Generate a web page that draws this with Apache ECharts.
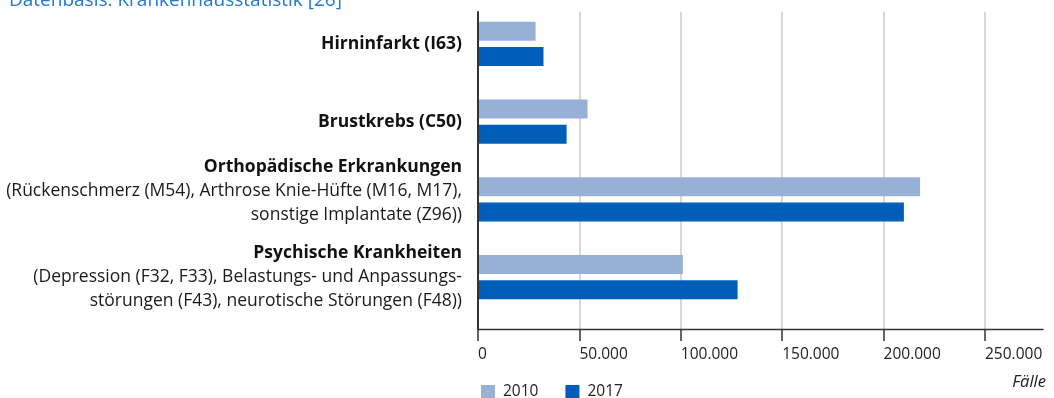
<!DOCTYPE html>
<html>
<head>
<meta charset="utf-8">
<script src="https://cdn.jsdelivr.net/npm/echarts@6/dist/echarts.min.js"></script>
<style>
  html, body { margin: 0; padding: 0; background: #fff; }
  #chart { width: 1054px; height: 398px; }
</style>
</head>
<body>
<div id="chart"></div>
<script>
// Diagnosis groups (bold heading) and their ICD detail lines
const categories = [
  'Hirninfarkt (I63)',
  'Brustkrebs (C50)',
  'Orthopädische Erkrankungen',
  'Psychische Krankheiten'
];
const categoryDetails = [
  [],
  [],
  ['(Rückenschmerz (M54), Arthrose Knie-Hüfte (M16, M17),', 'sonstige Implantate (Z96))'],
  ['(Depression (F32, F33), Belastungs- und Anpassungs-', 'störungen (F43), neurotische Störungen (F48))']
];
// Extra space under a label block lifts it above the bar pair
const labelLift = [0, 0, 17, 0];

const seriesNames = ['2010', '2017'];
const cases2010 = [28400, 54000, 218000, 101000];
const cases2017 = [32300, 43700, 210000, 128000];

const xTicks = [0, 50000, 100000, 150000, 200000, 250000];

const FONT = 'Open Sans';
const fmt = v => String(v).replace(/\B(?=(\d{3})+(?!\d))/g, '.');

const chart = echarts.init(document.getElementById('chart'), null, { renderer: 'canvas' });

const rich = {
  b: { fontFamily: FONT, fontSize: 17.5, fontWeight: 'bold', color: '#111', lineHeight: 24, align: 'right' },
  r: { fontFamily: FONT, fontSize: 17.5, color: '#1a1a1a', lineHeight: 24, align: 'right' }
};
labelLift.forEach((h, i) => { if (h) rich['sp' + i] = { fontSize: 1, lineHeight: h }; });

chart.setOption({
  animation: false,
  textStyle: { fontFamily: FONT },
  title: [
    {
      text: 'Datenbasis: Krankenhausstatistik [26]',
      left: 9, top: -9, padding: 0,
      textStyle: { fontFamily: FONT, fontSize: 19, fontWeight: 'normal', color: '#2279cf' }
    },
    {
      text: 'Fälle',
      right: 8, top: 374, padding: 0,
      textStyle: { fontFamily: FONT, fontSize: 16.5, fontWeight: 'normal', fontStyle: 'italic', color: '#222' }
    }
  ],
  legend: {
    left: 481, top: 384, padding: 0,
    itemWidth: 14, itemHeight: 14, itemGap: 27,
    icon: 'rect',
    data: seriesNames,
    textStyle: { fontFamily: FONT, fontSize: 15.5, color: '#222', padding: [0, 0, 0, 3] }
  },
  grid: [
    // bars and category labels
    { left: 478, width: 507, top: 5, height: 311 },
    // gridlines, value ticks and labels, vertical axis line
    { left: 478, width: 507, top: 12, bottom: 69 },
    // horizontal baseline running past the last tick
    { left: 478, right: 11, top: 12, bottom: 69 }
  ],
  xAxis: [
    { gridIndex: 0, type: 'value', min: 0, max: 250000, show: false },
    {
      gridIndex: 1, type: 'value', min: 0, max: 250000, interval: 50000,
      axisLine: { show: false },
      axisTick: { show: true, length: 12, inside: false, lineStyle: { color: '#333', width: 1.5 } },
      splitLine: { show: true, lineStyle: { color: '#cacaca', width: 1.5 } },
      axisLabel: {
        margin: 18, align: 'left', fontFamily: FONT, fontSize: 15.5, color: '#222',
        formatter: v => xTicks.includes(v) ? fmt(v) : ''
      }
    },
    {
      gridIndex: 2, type: 'value', min: 0, max: 1,
      axisLine: { show: true, lineStyle: { color: '#333', width: 1.3 } },
      axisTick: { show: false }, axisLabel: { show: false }, splitLine: { show: false }
    }
  ],
  yAxis: [
    {
      gridIndex: 0, type: 'category', inverse: true, data: categories,
      axisLine: { show: false }, axisTick: { show: false }, splitLine: { show: false },
      axisLabel: {
        interval: 0, hideOverlap: false,
        margin: 16, align: 'right',
        formatter: (name, idx) => {
          let s = '{b|' + name + '}';
          categoryDetails[idx].forEach(line => { s += '\n{r|' + line + '}'; });
          if (labelLift[idx]) s += '\n{sp' + idx + '| }';
          return s;
        },
        rich: rich
      }
    },
    {
      gridIndex: 1, type: 'category', data: categories, z: 5,
      axisLine: { show: true, lineStyle: { color: '#333', width: 2 } },
      axisTick: { show: false }, axisLabel: { show: false }, splitLine: { show: false }
    },
    { gridIndex: 2, type: 'value', show: false }
  ],
  series: [
    {
      name: seriesNames[0], type: 'bar', xAxisIndex: 0, yAxisIndex: 0,
      data: cases2010, barWidth: 19, barGap: '32%',
      itemStyle: { color: '#97b0d6' }
    },
    {
      name: seriesNames[1], type: 'bar', xAxisIndex: 0, yAxisIndex: 0,
      data: cases2017, barWidth: 19, barGap: '32%',
      itemStyle: { color: '#005eb8' }
    }
  ]
});
</script>
</body>
</html>
